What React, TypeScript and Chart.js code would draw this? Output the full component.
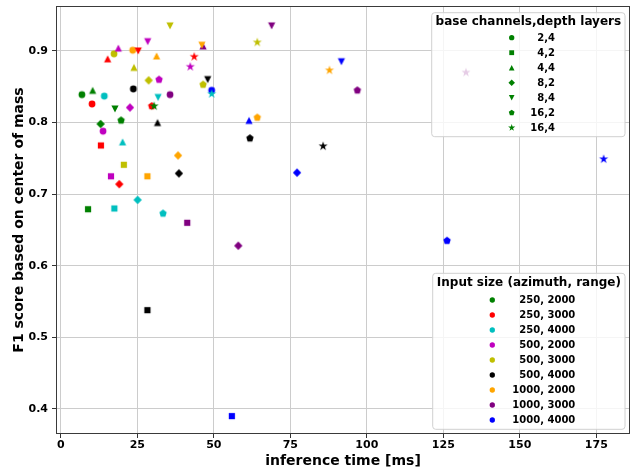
import React, { useEffect, useRef } from "react";
import { Chart, registerables } from "chart.js";

Chart.register(...registerables);

// Legend categories
const inputSizes = ["250, 2000", "250, 3000", "250, 4000", "500, 2000", "500, 3000", "500, 4000", "1000, 2000", "1000, 3000", "1000, 4000"];
const sizeColors = ["#008000", "#ff0000", "#00bfbf", "#bf00bf", "#bfbf00", "#000000", "#ffa500", "#800080", "#0000ff"];
const configs = ["2,4", "4,2", "4,4", "8,2", "8,4", "16,2", "16,4"];
const configShapes = ["circle", "square", "triangleUp", "diamond", "triangleDown", "pentagon", "star"];

// Series values (order of configs: 2,4 / 4,2 / 4,4 / 8,2 / 8,4 / 16,2 / 16,4)
const time_250_2000 = [6.9, 8.9, 10.4, 13.0, 17.7, 19.7, 30.5];
const f1_250_2000 = [0.839, 0.679, 0.845, 0.798, 0.819, 0.803, 0.823];
const time_250_3000 = [10.2, 13.1, 15.3, 19.1, 25.3, 29.7, 43.6];
const f1_250_3000 = [0.826, 0.768, 0.889, 0.714, 0.900, 0.823, 0.892];
const time_250_4000 = [14.2, 17.5, 20.2, 25.1, 31.8, 33.4, 49.3];
const f1_250_4000 = [0.837, 0.680, 0.773, 0.692, 0.835, 0.673, 0.840];
const time_500_2000 = [13.8, 16.4, 18.8, 22.6, 28.4, 32.1, 42.3];
const f1_500_2000 = [0.788, 0.725, 0.904, 0.821, 0.913, 0.860, 0.878];
const time_500_3000 = [17.4, 20.6, 23.9, 28.7, 35.7, 46.5, 64.2];
const f1_500_3000 = [0.896, 0.741, 0.877, 0.859, 0.935, 0.853, 0.912];
const time_500_4000 = [23.7, 28.3, 31.6, 38.6, 48.0, 61.8, 85.7];
const f1_500_4000 = [0.847, 0.538, 0.800, 0.729, 0.860, 0.778, 0.767];
const time_1000_2000 = [23.5, 28.3, 31.3, 38.3, 46.1, 64.2, 87.8];
const f1_1000_2000 = [0.901, 0.725, 0.893, 0.754, 0.908, 0.807, 0.873];
const time_1000_3000 = [35.7, 41.3, 46.5, 58.0, 68.9, 96.9, 132.4];
const f1_1000_3000 = [0.839, 0.660, 0.907, 0.628, 0.935, 0.845, 0.870];
const time_1000_4000 = [49.3, 55.9, 61.5, 77.2, 91.7, 126.2, 177.4];
const f1_1000_4000 = [0.845, 0.390, 0.803, 0.730, 0.885, 0.635, 0.749];

const timesBySize = [time_250_2000, time_250_3000, time_250_4000, time_500_2000, time_500_3000, time_500_4000, time_1000_2000, time_1000_3000, time_1000_4000];
const f1BySize = [f1_250_2000, f1_250_3000, f1_250_4000, f1_500_2000, f1_500_3000, f1_500_4000, f1_1000_2000, f1_1000_3000, f1_1000_4000];

// Tick labels
const xTicks = [0, 25, 50, 75, 100, 125, 150, 175];
const yTicks = [0.4, 0.5, 0.6, 0.7, 0.8, 0.9];

const FONT = "'DejaVu Sans', sans-serif";

function shapePath(ctx: CanvasRenderingContext2D, shape: string, cx: number, cy: number, s: number) {
  ctx.beginPath();
  if (shape === "circle") {
    ctx.arc(cx, cy, 3.4 * s, 0, Math.PI * 2);
  } else if (shape === "square") {
    const h = 3.1 * s;
    ctx.rect(cx - h, cy - h, 2 * h, 2 * h);
  } else if (shape === "triangleUp") {
    const h = 3.6 * s;
    ctx.moveTo(cx, cy - h);
    ctx.lineTo(cx + h, cy + h);
    ctx.lineTo(cx - h, cy + h);
    ctx.closePath();
  } else if (shape === "triangleDown") {
    const h = 3.6 * s;
    ctx.moveTo(cx, cy + h);
    ctx.lineTo(cx + h, cy - h);
    ctx.lineTo(cx - h, cy - h);
    ctx.closePath();
  } else if (shape === "diamond") {
    const h = 4.2 * s;
    ctx.moveTo(cx, cy - h);
    ctx.lineTo(cx + h, cy);
    ctx.lineTo(cx, cy + h);
    ctx.lineTo(cx - h, cy);
    ctx.closePath();
  } else if (shape === "pentagon") {
    const r = 3.9 * s;
    for (let i = 0; i < 5; i++) {
      const a = -Math.PI / 2 + (i * 2 * Math.PI) / 5;
      const px = cx + r * Math.cos(a);
      const py = cy + r * Math.sin(a);
      if (i === 0) ctx.moveTo(px, py);
      else ctx.lineTo(px, py);
    }
    ctx.closePath();
  } else if (shape === "star") {
    const R = 4.8 * s;
    const r = R * 0.381966;
    for (let i = 0; i < 10; i++) {
      const a = -Math.PI / 2 + (i * Math.PI) / 5;
      const rr = i % 2 === 0 ? R : r;
      const px = cx + rr * Math.cos(a);
      const py = cy + rr * Math.sin(a);
      if (i === 0) ctx.moveTo(px, py);
      else ctx.lineTo(px, py);
    }
    ctx.closePath();
  }
}

function makeMarker(shape: string, color: string, s: number): HTMLCanvasElement {
  const c = document.createElement("canvas");
  c.width = 14;
  c.height = 14;
  const ctx = c.getContext("2d")!;
  ctx.fillStyle = color;
  shapePath(ctx, shape, 7, 7, s);
  ctx.fill();
  return c;
}

function roundRect(ctx: CanvasRenderingContext2D, x: number, y: number, w: number, h: number, r: number) {
  ctx.beginPath();
  ctx.moveTo(x + r, y);
  ctx.lineTo(x + w - r, y);
  ctx.arcTo(x + w, y, x + w, y + r, r);
  ctx.lineTo(x + w, y + h - r);
  ctx.arcTo(x + w, y + h, x + w - r, y + h, r);
  ctx.lineTo(x + r, y + h);
  ctx.arcTo(x, y + h, x, y + h - r, r);
  ctx.lineTo(x, y + r);
  ctx.arcTo(x, y, x + r, y, r);
  ctx.closePath();
}

const framePlugin = {
  id: "frame",
  afterDatasetsDraw(chart: any) {
    const { ctx, chartArea } = chart;
    ctx.save();
    ctx.strokeStyle = "#3a3a3a";
    ctx.lineWidth = 1;
    ctx.strokeRect(Math.round(chartArea.left) + 0.5, Math.round(chartArea.top) + 0.5, Math.round(chartArea.right - chartArea.left) - 1, Math.round(chartArea.bottom - chartArea.top) - 1);
    ctx.restore();
  },
};

const legendsPlugin = {
  id: "twoLegends",
  afterDraw(chart: any) {
    const { ctx, chartArea } = chart;
    ctx.save();
    // Legend 1: shapes (base channels, depth layers)
    {
      const w = 193.3, h = 124;
      const x0 = chartArea.right - 5 - w;
      const y0 = chartArea.top + 6.7;
      roundRect(ctx, x0, y0, w, h, 3);
      ctx.fillStyle = "rgba(255,255,255,0.8)";
      ctx.fill();
      ctx.strokeStyle = "#d0d0d0";
      ctx.lineWidth = 1;
      ctx.stroke();
      ctx.fillStyle = "#000";
      ctx.font = `bold 12px ${FONT}`;
      ctx.textAlign = "center";
      ctx.textBaseline = "middle";
      ctx.fillText("base channels,depth layers", x0 + w / 2, y0 + 8.8);
      ctx.font = `bold 10px ${FONT}`;
      ctx.textAlign = "right";
      configs.forEach((label, i) => {
        const cy = y0 + 25 + i * 15;
        ctx.fillStyle = "#008000";
        shapePath(ctx, configShapes[i], x0 + 80, cy, 0.78);
        ctx.fill();
        ctx.fillStyle = "#000";
        ctx.fillText(label, x0 + 123.3, cy + 0.5);
      });
    }
    // Legend 2: colors (input size)
    {
      const w = 192.3, h = 156;
      const x0 = chartArea.right - 5 - w;
      const y0 = chartArea.bottom - 4.7 - h;
      roundRect(ctx, x0, y0, w, h, 3);
      ctx.fillStyle = "rgba(255,255,255,0.8)";
      ctx.fill();
      ctx.strokeStyle = "#d0d0d0";
      ctx.lineWidth = 1;
      ctx.stroke();
      ctx.fillStyle = "#000";
      ctx.font = `bold 12px ${FONT}`;
      ctx.textAlign = "center";
      ctx.textBaseline = "middle";
      ctx.fillText("Input size (azimuth, range)", x0 + w / 2, y0 + 10);
      ctx.font = `bold 10px ${FONT}`;
      ctx.textAlign = "right";
      inputSizes.forEach((label, i) => {
        const cy = y0 + 26.7 + i * 15;
        ctx.fillStyle = sizeColors[i];
        shapePath(ctx, "circle", x0 + 59.6, cy, 0.78);
        ctx.fill();
        ctx.fillStyle = "#000";
        ctx.fillText(label, x0 + 142.6, cy + 0.5);
      });
    }
    ctx.restore();
  },
};

export default function App() {
  const canvasRef = useRef<HTMLCanvasElement | null>(null);

  useEffect(() => {
    const canvas = canvasRef.current;
    if (!canvas) return;

    const datasets = inputSizes.map((label, i) => ({
      label,
      data: timesBySize[i].map((t, j) => ({ x: t, y: f1BySize[i][j] })),
      pointStyle: configShapes.map((sh) => makeMarker(sh, sizeColors[i], 1)),
      pointRadius: 4,
      backgroundColor: sizeColors[i],
      borderColor: sizeColors[i],
      showLine: false,
    }));

    const tickFont = { family: FONT, weight: "bold" as const, size: 11 };
    const titleFont = { family: FONT, weight: "bold" as const, size: 14 };

    const chart = new Chart(canvas, {
      type: "scatter",
      data: { datasets },
      options: {
        animation: false,
        responsive: false,
        events: [],
        layout: { padding: { top: 6, right: 14, left: 0, bottom: 0 } },
        plugins: { legend: { display: false }, tooltip: { enabled: false } },
        scales: {
          x: {
            type: "linear",
            min: -1.57,
            max: 186.0,
            afterBuildTicks: (s: any) => {
              s.ticks = xTicks.map((v) => ({ value: v }));
            },
            afterFit: (s: any) => {
              s.height = 37;
              s.paddingLeft = 0;
              s.paddingRight = 0;
            },
            grid: { color: "#cccccc", lineWidth: 1, drawTicks: true, tickLength: 4, tickColor: "#333333" },
            border: { display: false },
            ticks: {
              color: "#000",
              font: tickFont,
              padding: 1,
              maxRotation: 0,
              autoSkip: false,
              callback: (v: any) => String(v),
            },
            title: { display: true, text: "inference time [ms]", color: "#000", font: titleFont, padding: { top: 0, bottom: 1.6 } },
          },
          y: {
            type: "linear",
            min: 0.365,
            max: 0.9628,
            afterBuildTicks: (s: any) => {
              s.ticks = yTicks.map((v) => ({ value: v }));
            },
            afterFit: (s: any) => {
              s.width = 56;
              s.paddingTop = 0;
              s.paddingBottom = 0;
            },
            grid: { color: "#cccccc", lineWidth: 1, drawTicks: true, tickLength: 4, tickColor: "#333333" },
            border: { display: false },
            ticks: {
              color: "#000",
              font: tickFont,
              padding: 4,
              autoSkip: false,
              callback: (v: any) => Number(v).toFixed(1),
            },
            title: { display: true, text: "F1 score based on center of mass", color: "#000", font: titleFont, padding: { top: 10.6, bottom: 0 } },
          },
        },
      },
      plugins: [framePlugin, legendsPlugin],
    });

    return () => chart.destroy();
  }, []);

  return (
    <div style={{ position: "absolute", left: 0, top: 0, width: 644, height: 471, background: "#fff" }}>
      <canvas ref={canvasRef} width={644} height={471} style={{ display: "block" }} />
    </div>
  );
}
